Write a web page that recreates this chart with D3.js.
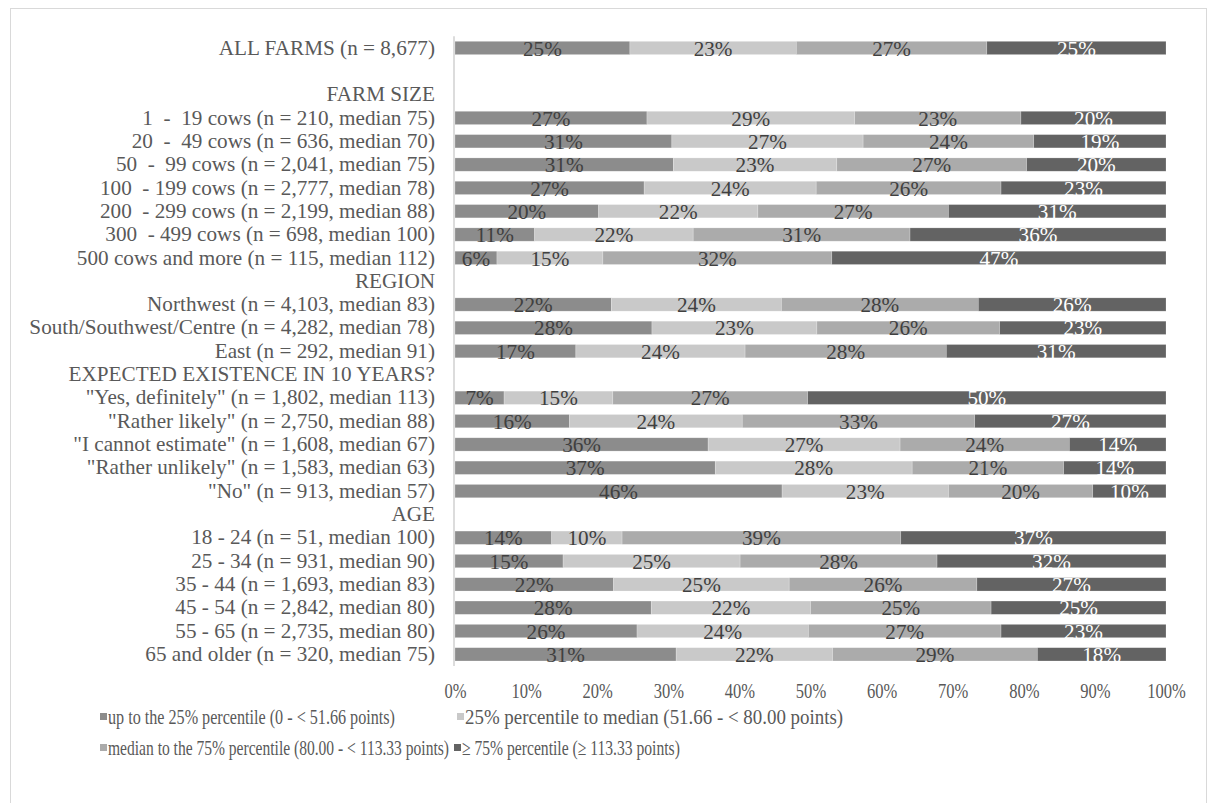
<!DOCTYPE html>
<html>
<head>
<meta charset="utf-8">
<script src="https://cdn.jsdelivr.net/npm/d3@7"></script>
<style>
  html, body { margin: 0; padding: 0; background: #fff; }
  svg { display: block; font-family: "Liberation Serif", "Times New Roman", serif; }
</style>
</head>
<body>
<svg id="chart" width="1216" height="803"></svg>
<script>
// ---- data ----
const categories = [
  "ALL FARMS (n = 8,677)",
  "",
  "FARM SIZE",
  "1  -  19 cows (n = 210, median 75)",
  "20  -  49 cows (n = 636, median 70)",
  "50  -  99 cows (n = 2,041, median 75)",
  "100  - 199 cows (n = 2,777, median 78)",
  "200  - 299 cows (n = 2,199, median 88)",
  "300  - 499 cows (n = 698, median 100)",
  "500 cows and more (n = 115, median 112)",
  "REGION",
  "Northwest (n = 4,103, median 83)",
  "South/Southwest/Centre (n = 4,282, median 78)",
  "East (n = 292, median 91)",
  "EXPECTED EXISTENCE IN 10 YEARS?",
  "\"Yes, definitely\" (n = 1,802, median 113)",
  "\"Rather likely\" (n = 2,750, median 88)",
  "\"I cannot estimate\" (n = 1,608, median 67)",
  "\"Rather unlikely\" (n = 1,583, median 63)",
  "\"No\" (n = 913, median 57)",
  "AGE",
  "18 - 24 (n = 51, median 100)",
  "25 - 34 (n = 931, median 90)",
  "35 - 44 (n = 1,693, median 83)",
  "45 - 54 (n = 2,842, median 80)",
  "55 - 65 (n = 2,735, median 80)",
  "65 and older (n = 320, median 75)"
];
const upTo25     = [24.6, null, null, 27.0, 30.5, 30.7, 26.6, 20.2, 11.2, 5.9, null, 22.0, 27.7, 17.0, null, 6.9, 16.1, 35.6, 36.6, 46.0, null, 13.6, 15.2, 22.3, 27.6, 25.6, 31.1];
const p25ToMedian= [23.4, null, null, 29.2, 26.9, 23.0, 24.2, 22.4, 22.3, 14.9, null, 23.9, 23.2, 23.8, null, 15.3, 24.3, 27.0, 27.7, 23.4, null, 9.9, 24.9, 24.7, 22.4, 24.1, 22.0];
const medianTo75 = [26.8, null, null, 23.4, 24.0, 26.7, 26.0, 26.8, 30.5, 32.2, null, 27.7, 25.7, 28.3, null, 27.4, 32.7, 23.8, 21.3, 20.3, null, 39.2, 27.7, 26.4, 25.4, 27.1, 28.8];
const above75    = [25.2, null, null, 20.4, 18.6, 19.6, 23.2, 30.6, 36.0, 47.0, null, 26.4, 23.4, 30.9, null, 50.4, 26.9, 13.6, 14.4, 10.3, null, 37.3, 32.2, 26.6, 24.6, 23.2, 18.1];
const seriesNames = [
  "up to the 25% percentile (0 - < 51.66 points)",
  "25% percentile to median (51.66 - < 80.00 points)",
  "median to the 75% percentile (80.00 - < 113.33 points)",
  "\u2265 75% percentile (\u2265 113.33 points)"
];
const xTicks = [0, 10, 20, 30, 40, 50, 60, 70, 80, 90, 100];

// ---- styles ----
const colors = ["#8c8c8c", "#c9c9c9", "#ababab", "#636363"];
const labelColors = ["#404040", "#404040", "#404040", "#ffffff"];
const textColor = "#595959";
const FS = 21.2;        // main font size
const SQUEEZE = 0.78;   // horizontal compression of tick text

const svg = d3.select("#chart");

// chart frame
svg.append("rect").attr("x", 10.5).attr("y", 8.5).attr("width", 1196).attr("height", 800)
  .attr("fill", "none").attr("stroke", "#d9d9d9").attr("stroke-width", 1);

const plot = { left: 455, right: 1166, top: 36.3, bottom: 666 };
const x = d3.scaleLinear().domain([0, 100]).range([plot.left, plot.right]);
const y = d3.scaleBand().domain(d3.range(categories.length)).range([plot.top, plot.bottom]).paddingInner(0.43).paddingOuter(0.215);

const seriesArrays = [upTo25, p25ToMedian, medianTo75, above75];
const rows = categories.map((c, i) => ({ i, label: c, vals: seriesArrays.map(a => a[i]) }));
const segs = [];
rows.forEach(r => {
  if (r.vals[0] == null) return;
  let acc = 0;
  r.vals.forEach((v, k) => {
    segs.push({ i: r.i, k, x0: acc, x1: acc + v, v });
    acc += v;
  });
});

// bars
svg.append("g").selectAll("rect").data(segs).join("rect")
  .attr("x", d => x(d.x0))
  .attr("width", d => x(d.x1) - x(d.x0))
  .attr("y", d => y(d.i))
  .attr("height", y.bandwidth())
  .attr("fill", d => colors[d.k])
  .attr("stroke", "#ffffff").attr("stroke-opacity", 0.35).attr("stroke-width", 0.6);

// data labels
svg.append("g").selectAll("text").data(segs).join("text")
  .attr("x", d => (x(d.x0) + x(d.x1)) / 2)
  .attr("y", d => y(d.i) + y.bandwidth() + 1)
  .attr("text-anchor", "middle")
  .attr("font-size", FS)
  .attr("fill", d => labelColors[d.k])
  .text(d => Math.round(d.v) + "%");

// vertical axis line
svg.append("line").attr("x1", plot.left - 1).attr("x2", plot.left - 1)
  .attr("y1", plot.top).attr("y2", plot.bottom)
  .attr("stroke", "#d0d0d0").attr("stroke-width", 1.5);

// category labels
svg.append("g").selectAll("text").data(rows).join("text")
  .attr("x", plot.left - 20)
  .attr("y", d => y(d.i) + y.bandwidth())
  .attr("text-anchor", "end")
  .attr("font-size", FS)
  .attr("fill", textColor)
  .style("white-space", "pre")
  .text(d => d.label);

// x axis ticks (horizontally squeezed text)
const xAxis = d3.axisBottom(x).tickValues(xTicks).tickFormat(d => d + "%").tickSize(0).tickPadding(0);
const gx = svg.append("g").attr("transform", `translate(0, ${plot.bottom + 32})`).call(xAxis);
gx.select(".domain").remove();
gx.selectAll("text")
  .attr("font-size", FS).attr("fill", textColor)
  .attr("font-family", "Liberation Serif, Times New Roman, serif")
  .attr("y", 0).attr("dy", 0)
  .attr("transform", `scale(${SQUEEZE},1)`);

// legend
const legendItems = [
  { x: 100, y: 717, w: 287 },
  { x: 457, y: 717, w: 378 },
  { x: 100, y: 748, w: 341 },
  { x: 454, y: 748, w: 218 }
];
const lg = svg.append("g").selectAll("g").data(seriesNames).join("g")
  .attr("transform", (d, i) => `translate(${legendItems[i].x}, ${legendItems[i].y})`);
lg.append("rect").attr("x", 0).attr("y", -4).attr("width", 7).attr("height", 7)
  .attr("fill", (d, i) => colors[i]);
lg.append("text")
  .attr("font-size", FS).attr("fill", textColor)
  .text(d => d)
  .each(function (d, i) {
    const natural = this.getComputedTextLength();
    const sx = legendItems[i].w / natural;
    d3.select(this).attr("transform", `translate(8, 7) scale(${sx},1)`);
  });
</script>
</body>
</html>
